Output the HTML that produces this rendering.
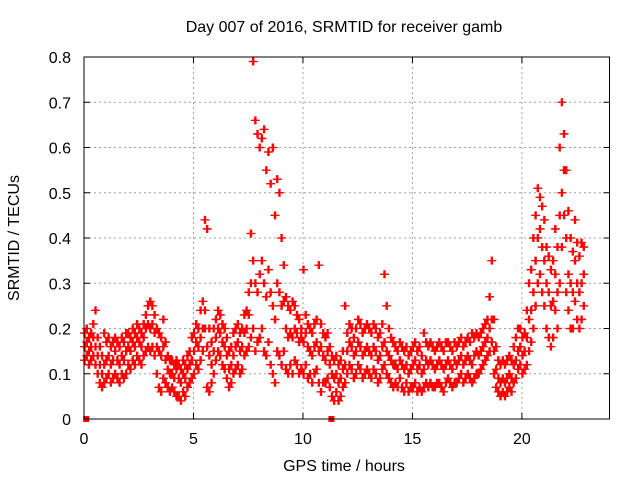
<!DOCTYPE html>
<html><head><meta charset="utf-8"><style>
body{margin:0;background:#fff}
svg{display:block;font-family:"Liberation Sans",sans-serif}
</style></head><body>
<svg id="chart" width="640" height="480" viewBox="0 0 640 480">
<rect width="640" height="480" fill="#fff"/>
<text x="344" y="32" text-anchor="middle" font-size="16">Day 007 of 2016, SRMTID for receiver gamb</text>
<text x="19" y="238" text-anchor="middle" font-size="16" transform="rotate(-90 19 238)">SRMTID / TECUs</text>
<text x="344" y="471" text-anchor="middle" font-size="16">GPS time / hours</text>
<g id="grid"></g>
<g id="ticks"></g>
<g id="marks"></g>
<rect x="84" y="57" width="525.5" height="362" fill="none" stroke="#000" stroke-width="1"/>
</svg>
<script>
const xTicks=[0,5,10,15,20];
const yTicks=[0,0.1,0.2,0.3,0.4,0.5,0.6,0.7,0.8];
const yTickLabels=["0","0.1","0.2","0.3","0.4","0.5","0.6","0.7","0.8"];
const timeStep=0.1;
const midVals=[.16,.17,.15,.16,.18,.16,.14,.12,.10,.12,
.13,.14,.12,.13,.15,.13,.12,.14,.13,.15,
.16,.15,.17,.16,.18,.17,.16,.18,.20,.21,
.20,.21,.19,.16,.15,.14,.16,.13,.11,.10,
.10,.09,.11,.09,.08,.10,.09,.11,.12,.13,
.15,.17,.16,.18,.20,.24,.16,.14,.12,.15,
.18,.20,.19,.17,.16,.14,.11,.12,.14,.16,
.17,.15,.16,.19,.20,.23,.30,.35,.30,.28,
.32,.35,.30,.27,.33,.28,.25,.22,.30,.28,
.25,.26,.20,.18,.19,.18,.20,.19,.17,.18,
.17,.19,.16,.15,.14,.16,.17,.15,.16,.14,
.13,.15,.12,.10,.09,.10,.08,.09,.11,.12,
.15,.17,.16,.14,.15,.17,.16,.14,.15,.16,
.15,.14,.16,.15,.13,.14,.16,.17,.15,.14,
.13,.12,.12,.11,.13,.12,.11,.12,.10,.11,
.12,.13,.11,.12,.10,.11,.13,.12,.13,.12,
.11,.12,.13,.12,.11,.12,.13,.12,.11,.13,
.12,.13,.14,.12,.13,.14,.13,.12,.14,.15,
.14,.15,.16,.17,.18,.20,.22,.15,.11,.09,
.08,.09,.08,.09,.10,.09,.12,.13,.15,.16,
.14,.15,.18,.22,.24,.28,.35,.40,.42,.38,
.35,.30,.28,.25,.26,.32,.28,.45,.50,.55,
.40,.32,.30,.28,.35,.30,.28,.30,.32];
const hiVals=[.19,.20,.18,.19,.21,.24,.18,.16,.14,.19,
.17,.18,.16,.17,.18,.17,.16,.18,.17,.19,
.19,.18,.20,.19,.21,.20,.19,.21,.23,.25,
.26,.25,.23,.20,.19,.18,.22,.17,.14,.13,
.13,.12,.13,.12,.11,.13,.12,.14,.15,.18,
.19,.21,.20,.24,.26,.44,.42,.20,.17,.20,
.22,.24,.23,.21,.20,.18,.15,.16,.19,.20,
.21,.19,.20,.23,.24,.28,.41,.79,.66,.63,
.60,.62,.64,.55,.59,.52,.60,.45,.53,.50,
.40,.34,.27,.25,.24,.26,.25,.23,.22,.20,
.33,.23,.21,.20,.19,.21,.22,.34,.21,.19,
.18,.19,.16,.14,.13,.14,.12,.13,.15,.25,
.19,.21,.20,.18,.20,.22,.21,.19,.20,.21,
.20,.19,.21,.20,.18,.19,.21,.32,.25,.20,
.18,.17,.16,.15,.17,.16,.15,.16,.14,.15,
.16,.17,.15,.16,.14,.19,.17,.16,.17,.16,
.15,.16,.17,.16,.15,.17,.17,.16,.15,.17,
.16,.17,.18,.16,.17,.18,.17,.19,.18,.19,
.18,.19,.20,.21,.22,.27,.35,.22,.16,.13,
.12,.13,.12,.13,.14,.13,.16,.18,.20,.20,
.18,.19,.24,.30,.33,.40,.45,.51,.49,.47,
.44,.38,.36,.33,.35,.42,.38,.60,.70,.63,
.55,.46,.40,.37,.44,.39,.36,.39,.38];
const loVals=[.13,.14,.12,.13,.14,.12,.10,.08,.07,.08,
.09,.10,.08,.09,.10,.09,.08,.10,.09,.10,
.12,.11,.13,.12,.14,.13,.12,.14,.15,.16,
.15,.16,.14,.10,.07,.06,.09,.08,.07,.06,
.07,.06,.05,.05,.04,.06,.05,.07,.08,.09,
.10,.12,.11,.13,.15,.20,.07,.06,.08,.10,
.13,.15,.14,.12,.11,.09,.07,.08,.10,.11,
.12,.10,.11,.14,.15,.16,.18,.20,.15,.17,
.18,.20,.15,.14,.17,.12,.10,.08,.15,.14,
.12,.15,.11,.10,.12,.10,.13,.12,.10,.11,
.10,.12,.09,.10,.08,.10,.11,.08,.06,.08,
.08,.09,.07,.05,.04,.06,.04,.05,.07,.08,
.10,.12,.11,.09,.10,.12,.11,.09,.10,.11,
.10,.09,.11,.10,.08,.09,.11,.12,.10,.09,
.08,.07,.08,.07,.09,.07,.06,.08,.06,.07,
.07,.08,.06,.07,.06,.07,.08,.07,.08,.07,
.07,.08,.08,.07,.06,.08,.09,.08,.07,.08,
.08,.09,.10,.08,.09,.10,.09,.08,.09,.10,
.10,.11,.12,.13,.14,.15,.17,.10,.07,.06,
.05,.06,.05,.06,.07,.06,.08,.09,.11,.12,
.10,.11,.12,.15,.17,.20,.25,.30,.32,.28,
.25,.20,.18,.16,.18,.24,.20,.30,.38,.45,
.28,.24,.20,.20,.26,.22,.20,.22,.25];
const zeroTimes=[0.1,11.3];
const NS='http://www.w3.org/2000/svg';
const X0=84,X1=609.5,Y0=419,Y1=57,XMAX=24,YMAX=0.8;
function xs(v){return X0+(X1-X0)*v/XMAX;}
function ys(v){return Y0-(Y0-Y1)*v/YMAX;}
const grid=document.getElementById('grid'),ticks=document.getElementById('ticks'),marks=document.getElementById('marks'),svg=document.getElementById('chart');
function mk(tag,attrs,parent){const e=document.createElementNS(NS,tag);for(const k in attrs)e.setAttribute(k,attrs[k]);parent.appendChild(e);return e;}
xTicks.forEach(t=>{
  const x=xs(t);
  if(t>0){const g=mk('line',{x1:x,x2:x,y1:Y1,y2:Y0,stroke:'#a0a0a0','stroke-dasharray':'2,3'},grid);
  
  }
  mk('line',{x1:x,x2:x,y1:Y0,y2:Y0-6,stroke:'#000'},ticks);
  mk('line',{x1:x,x2:x,y1:Y1,y2:Y1+6,stroke:'#000'},ticks);
  const l=mk('text',{x:x,y:444,'text-anchor':'middle','font-size':'16'},svg);
  l.textContent=t;
  
  
});
yTicks.forEach((t,i)=>{
  const y=ys(t);
  if(t>0&&t<YMAX){const g=mk('line',{x1:X0,x2:X1,y1:y,y2:y,stroke:'#a0a0a0','stroke-dasharray':'2,3'},grid);
  
  }
  mk('line',{x1:X0,x2:X0+6,y1:y,y2:y,stroke:'#000'},ticks);
  mk('line',{x1:X1,x2:X1-6,y1:y,y2:y,stroke:'#000'},ticks);
  const l=mk('text',{x:71,y:y+6,'text-anchor':'end','font-size':'16'},svg);
  l.textContent=yTickLabels[i];
  
  
});
function plus(t,v,name){
  const x=xs(t),y=ys(v);
  const p=mk('path',{d:`M${x-4},${y}h8M${x},${y-4}v8`,stroke:'#ff0000','stroke-width':'1.3',fill:'none'},marks);
  
  
}
[[loVals,'point-low'],[midVals,'point-mid'],[hiVals,'point-high']].forEach(([arr,name])=>{
  arr.forEach((v,i)=>{plus(i*timeStep,v,name);plus(i*timeStep+0.05,v,name);});
});
zeroTimes.forEach(t=>{
  const r=mk('rect',{x:xs(t)-3,y:Y0-3,width:6,height:6,fill:'#ff0000'},marks);
  
  
});
</script>
</body></html>
